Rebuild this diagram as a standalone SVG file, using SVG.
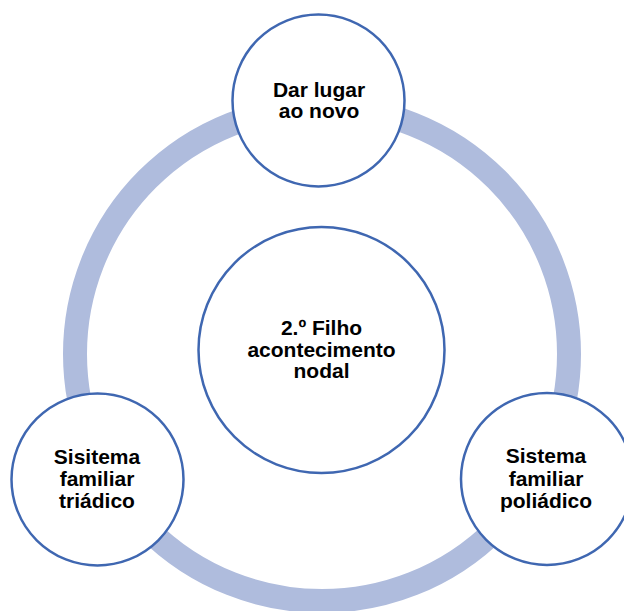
<svg xmlns="http://www.w3.org/2000/svg" width="624" height="611" viewBox="0 0 624 611">
<style>
.node{fill:#ffffff;stroke:#3f67b1;stroke-width:2.5}
.lbl{font-family:"Liberation Sans",Arial,sans-serif;font-weight:bold;font-size:21px;fill:#000000;text-anchor:middle}
</style>
<g id="connectors">
<circle cx="322" cy="354" r="247" fill="none" stroke="#afbcdd" stroke-width="24"/>
</g>
<g id="center">
<circle class="node" cx="321.5" cy="350" r="123"/>
<text class="lbl"><tspan x="321.5" y="335">2.º Filho</tspan><tspan x="321.5" y="356.7">acontecimento</tspan><tspan x="321.5" y="378.3">nodal</tspan></text>
</g>
<g id="top">
<circle class="node" cx="318.5" cy="100.5" r="86"/>
<text class="lbl"><tspan x="319" y="96.7">Dar lugar</tspan><tspan x="319" y="118.3">ao novo</tspan></text>
</g>
<g id="left">
<circle class="node" cx="97.5" cy="479.5" r="86"/>
<text class="lbl"><tspan x="97" y="464">Sisitema</tspan><tspan x="97" y="486">familiar</tspan><tspan x="97" y="507.7">triádico</tspan></text>
</g>
<g id="right">
<circle class="node" cx="547" cy="479" r="86"/>
<text class="lbl"><tspan x="546" y="463.3">Sistema</tspan><tspan x="546" y="485.7">familiar</tspan><tspan x="546" y="507.7">poliádico</tspan></text>
</g>
</svg>
